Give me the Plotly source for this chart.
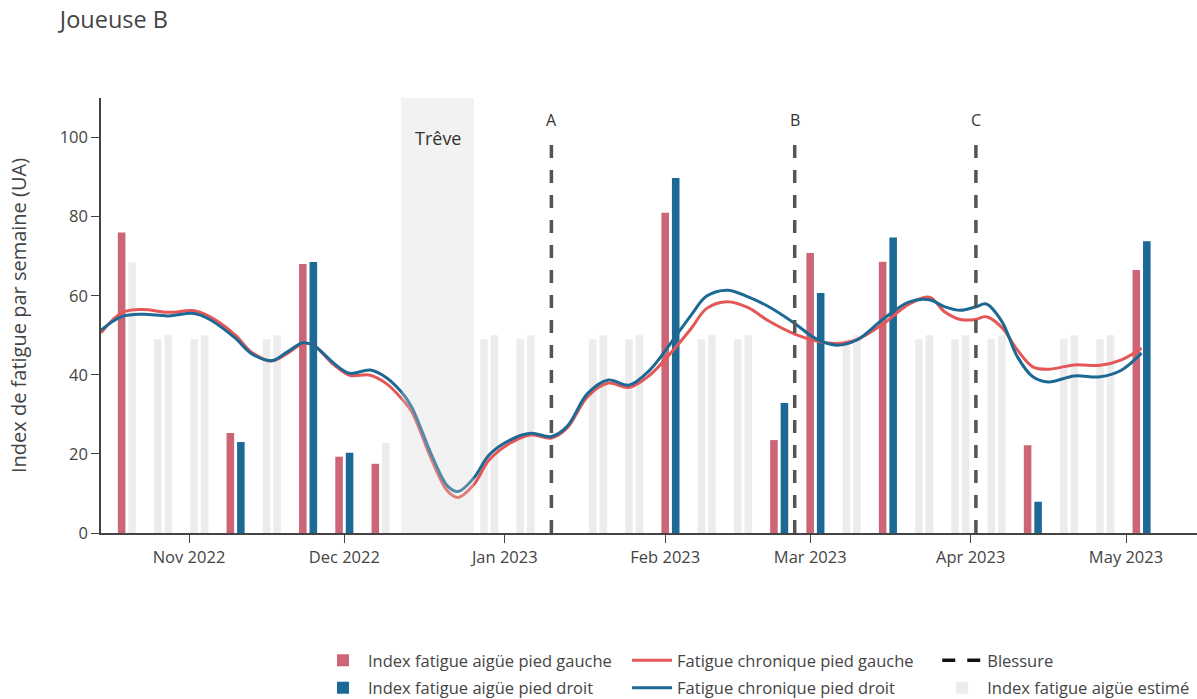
import plotly.graph_objects as go

# ---------------- data ----------------
weeks = [
    "2022-10-20", "2022-10-27", "2022-11-03", "2022-11-10", "2022-11-17", "2022-11-24",
    "2022-12-01", "2022-12-08", "2022-12-15", "2022-12-22", "2022-12-29", "2023-01-05",
    "2023-01-12", "2023-01-19", "2023-01-26", "2023-02-02", "2023-02-09", "2023-02-16",
    "2023-02-23", "2023-03-02", "2023-03-09", "2023-03-16", "2023-03-23", "2023-03-30",
    "2023-04-06", "2023-04-13", "2023-04-20", "2023-04-27", "2023-05-04",
]
acute_left = [76, None, None, 25.3, None, 68, 19.3, 17.5, None, None, None, None, None, None, None,
              81, None, None, 23.5, 70.8, None, 68.6, None, None, None, 22.2, None, None, 66.5]
acute_right = [None, None, None, 23, None, 68.5, 20.3, None, None, None, None, None, None, None, None,
               89.8, None, None, 32.9, 60.7, None, 74.7, None, None, None, 7.9, None, None, 73.8]
est_left = [None, 49, 49, None, 49, None, None, None, None, None, 49, 49, None, 49, 49,
            None, 49, 49, None, None, 49, None, 49, 49, 49, None, 49, 49, None]
est_right = [68.4, 50, 50, None, 50, None, None, 22.8, None, None, 50, 50, None, 50, 50,
             None, 50, 50, None, None, 50, None, 50, 50, 50, None, 50, 50, None]

chronic_dates = [
    "2022-10-15", "2022-10-19", "2022-10-23", "2022-10-28", "2022-11-02", "2022-11-05",
    "2022-11-10", "2022-11-13", "2022-11-17", "2022-11-20", "2022-11-23", "2022-11-25",
    "2022-11-29", "2022-12-02", "2022-12-06", "2022-12-09", "2022-12-12", "2022-12-14",
    "2022-12-18", "2022-12-21", "2022-12-23", "2022-12-26", "2022-12-29", "2023-01-02",
    "2023-01-06", "2023-01-10", "2023-01-13", "2023-01-17", "2023-01-21", "2023-01-25",
    "2023-01-29", "2023-02-02", "2023-02-06", "2023-02-09", "2023-02-13", "2023-02-17",
    "2023-02-21", "2023-02-26", "2023-03-02", "2023-03-06", "2023-03-10", "2023-03-15",
    "2023-03-20", "2023-03-24", "2023-03-27", "2023-03-30", "2023-04-02", "2023-04-04",
    "2023-04-07", "2023-04-10", "2023-04-13", "2023-04-16", "2023-04-21", "2023-04-26",
    "2023-04-30", "2023-05-04",
]
chronic_left = [
    50.6, 55.7, 56.5, 55.8, 56.2, 54.7,
    50.0, 45.8, 43.5, 45.4, 47.9, 47.5,
    42.5, 39.9, 39.9, 37.9, 34.1, 30.7,
    18.1, 10.5, 9.0, 12.2, 18.5, 22.7,
    24.8, 24.0, 26.5, 34.5, 37.9, 36.8,
    39.9, 45.4, 51.7, 56.8, 58.5, 57.0,
    53.6, 50.3, 48.6, 47.9, 48.9, 52.8,
    57.8, 59.6, 55.9, 54.0, 54.0, 54.7,
    52.0, 46.3, 42.0, 41.4, 42.5, 42.4,
    43.7, 46.7,
]
chronic_right = [
    51.3, 54.7, 55.3, 54.9, 55.5, 54.0,
    49.2, 45.4, 43.6, 45.8, 48.1, 47.5,
    42.9, 40.4, 41.2, 39.4, 35.7, 31.9,
    19.3, 11.8, 10.5, 13.9, 19.8, 23.5,
    25.2, 24.4, 26.9, 35.3, 38.7, 37.4,
    41.2, 47.9, 55.1, 59.9, 61.4, 59.7,
    57.2, 53.0, 49.2, 47.5, 48.8, 54.0,
    58.4, 59.0, 57.2, 56.3, 57.2, 57.9,
    53.5, 44.6, 39.5, 38.2, 39.7, 39.5,
    41.1, 45.5,
]

injury_dates = ["2023-01-10", "2023-02-26", "2023-04-02"]
injury_labels = ["A", "B", "C"]
break_start = "2022-12-12"
break_end = "2022-12-26"
break_label = "Trêve"

# ---------------- style constants ----------------
RED_BAR = "#cc6677"
BLUE_BAR = "#1d6996"
RED_LINE = "#e45756"
BLUE_LINE = "#1d6996"
EST_GRAY = "#ececec"
INJ_COLOR = "#555555"
INJ_TOP = 100
INJ_LABEL_Y = 104.5
BREAK_LABEL_Y = 100

fig = go.Figure()

fig.add_trace(go.Bar(x=weeks, y=acute_left, name="Index fatigue aigüe pied gauche",
                     legend="legend", legendgroup="g1",
                     marker=dict(color=RED_BAR, line=dict(width=0)), offsetgroup="L"))
fig.add_trace(go.Bar(x=weeks, y=acute_right, name="Index fatigue aigüe pied droit",
                     legend="legend", legendgroup="g2",
                     marker=dict(color=BLUE_BAR, line=dict(width=0)), offsetgroup="R"))
fig.add_trace(go.Bar(x=weeks, y=est_left, name="Index fatigue aigüe estimé", showlegend=False,
                     legend="legend3", legendgroup="g6",
                     marker=dict(color=EST_GRAY, line=dict(width=0)), offsetgroup="L"))
fig.add_trace(go.Bar(x=weeks, y=est_right, name="Index fatigue aigüe estimé",
                     legend="legend3", legendgroup="g6", legendrank=2,
                     marker=dict(color=EST_GRAY, line=dict(width=0)), offsetgroup="R"))

fig.add_trace(go.Scatter(x=chronic_dates, y=chronic_left, mode="lines", name="Fatigue chronique pied gauche",
                         legend="legend2", legendgroup="g3",
                         line=dict(color=RED_LINE, width=3, shape="spline", smoothing=1.0)))
fig.add_trace(go.Scatter(x=chronic_dates, y=chronic_right, mode="lines", name="Fatigue chronique pied droit",
                         legend="legend2", legendgroup="g4",
                         line=dict(color=BLUE_LINE, width=3, shape="spline", smoothing=1.0)))

inj_x, inj_y = [], []
for d in injury_dates:
    inj_x += [d, d, None]
    inj_y += [0, INJ_TOP, None]
fig.add_trace(go.Scatter(x=inj_x, y=inj_y, mode="lines", showlegend=False, hoverinfo="skip",
                         legend="legend3", legendgroup="g5",
                         line=dict(color=INJ_COLOR, width=3.5, dash="13px,12px")))
fig.add_trace(go.Scatter(x=[None], y=[None], mode="lines", name="Blessure",
                         legend="legend3", legendgroup="g5", legendrank=1,
                         line=dict(color="#111111", width=3.5, dash="13px,12px")))

for d, lab in zip(injury_dates, injury_labels):
    fig.add_annotation(x=d, y=INJ_LABEL_Y, text=lab, showarrow=False,
                       font=dict(size=16, color="#333"), yanchor="middle")

fig.add_vrect(x0=break_start, x1=break_end, fillcolor="lightgray", opacity=0.3, line_width=0, layer="above")
fig.add_annotation(x="2022-12-19", y=BREAK_LABEL_Y, text=break_label, showarrow=False,
                   font=dict(size=18, color="#333"), yanchor="middle")

legend_common = dict(orientation="v", xanchor="left", y=-0.253, yanchor="top", tracegroupgap=3,
                     itemwidth=40, font=dict(size=16.5, color="#444"), bgcolor="rgba(0,0,0,0)")

fig.update_layout(
    width=1197, height=699,
    margin=dict(l=101, r=0, t=98, b=166, autoexpand=False),
    paper_bgcolor="white", plot_bgcolor="white",
    font=dict(family="Open Sans", size=16.5, color="#444"),
    title=dict(text="Joueuse B", x=0.05, xanchor="left", y=0.971, yanchor="middle",
               font=dict(size=23.5, color="#444")),
    barmode="group", bargap=0.42, bargroupgap=0.28,
    legend=dict(x=0.198, **legend_common),
    legend2=dict(x=0.480, **legend_common),
    legend3=dict(x=0.763, **legend_common),
    xaxis=dict(type="date", range=["2022-10-15", "2023-05-14 17:00"], showline=True, linecolor="#444",
               linewidth=1.5, ticks="outside", ticklen=8, tickcolor="#444", dtick="M1",
               tick0="2022-11-01", tickformat="%b %Y", showgrid=False, zeroline=False),
    yaxis=dict(range=[0, 110], dtick=20, showline=True, linecolor="#444", linewidth=1.5,
               ticks="outside", ticklen=8, tickcolor="#444", showgrid=False, zeroline=False,
               title=dict(text="Index de fatigue par semaine (UA)", font=dict(size=20), standoff=28)),
)

fig.write_html("out.html", config={"displayModeBar": False},
               post_script="document.body.style.margin='0px';")
